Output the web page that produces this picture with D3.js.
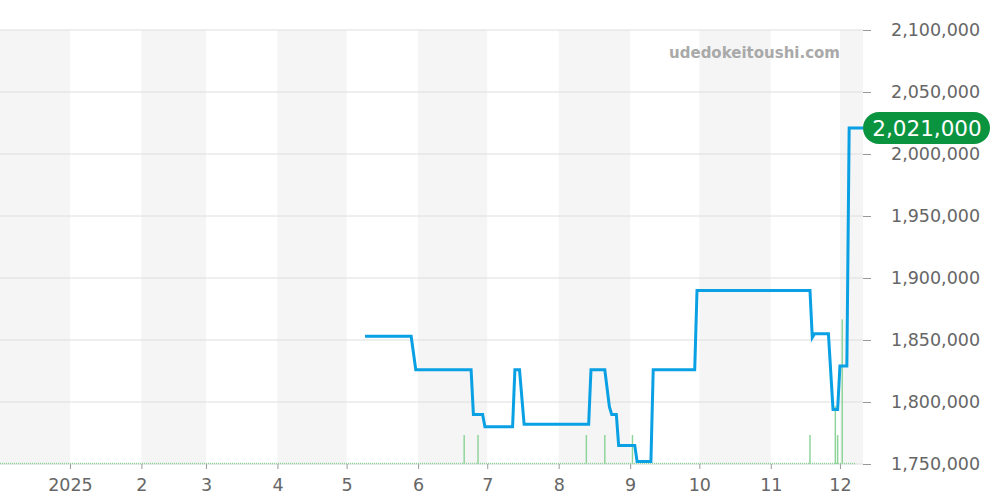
<!DOCTYPE html>
<html>
<head>
<meta charset="utf-8">
<script src="https://cdn.jsdelivr.net/npm/d3@7"></script>
<style>
  body { margin: 0; background: #fff; }
  svg { display: block; font-family: "DejaVu Sans", sans-serif; }
</style>
</head>
<body>
<div id="chart"></div>
<script>
// price history (step changes)
const priceDates = ["2025-05-09","2025-05-29","2025-05-31","2025-06-24","2025-06-25","2025-06-29","2025-06-30",
  "2025-07-12","2025-07-13","2025-07-15","2025-07-17","2025-08-14","2025-08-15","2025-08-21","2025-08-23",
  "2025-08-24","2025-08-26","2025-08-27","2025-08-28","2025-09-03","2025-09-04","2025-09-10","2025-09-11",
  "2025-09-29","2025-09-30","2025-11-18","2025-11-19","2025-11-20","2025-11-26","2025-11-28","2025-11-30",
  "2025-12-01","2025-12-04","2025-12-05","2025-12-11"];
const priceValues = [1853000,1853000,1826000,1826000,1790000,1790000,1780000,
  1780000,1826000,1826000,1782000,1782000,1826000,1826000,1796000,
  1790000,1790000,1765000,1765000,1765000,1752000,1752000,1826000,
  1826000,1890000,1890000,1852000,1855000,1855000,1794000,1794000,
  1829000,1829000,2021000,2021000];

// listing counts (green bars)
const volumeDates = ["2025-06-21","2025-06-27","2025-08-13","2025-08-21","2025-09-02","2025-11-18","2025-11-29","2025-11-30","2025-12-02"];
const volumeValues = [1,1,1,1,1,1,2,1,5];

const yTicks = [1750000,1800000,1850000,1900000,1950000,2000000,2050000,2100000];
const lastPrice = 2021000;
const watermark = "udedokeitoushi.com";

const width = 1000, height = 500;
const plotLeft = 0, plotRight = 863, plotTop = 30, plotBottom = 464;
const parse = d3.timeParse("%Y-%m-%d");

const x = d3.scaleTime()
  .domain([parse("2024-12-01"), parse("2025-12-11")])
  .range([plotLeft - 1.5, plotRight]);
const y = d3.scaleLinear().domain([1750000, 2100000]).range([plotBottom, plotTop]);
const yv = d3.scaleLinear().domain([0, 15]).range([plotBottom, plotTop]);

const svg = d3.select("#chart").append("svg")
  .attr("width", width).attr("height", height);

// month bands
const months = d3.timeMonth.range(parse("2024-12-01"), parse("2026-01-01"));
svg.append("g").selectAll("rect")
  .data(months.filter(m => m.getMonth() % 2 === 1))
  .join("rect")
  .attr("x", d => Math.max(plotLeft, x(d)))
  .attr("width", d => Math.min(plotRight, x(d3.timeMonth.offset(d, 1))) - Math.max(plotLeft, x(d)))
  .attr("y", plotTop).attr("height", plotBottom - plotTop)
  .attr("fill", "#f5f5f5");

// horizontal grid
svg.append("g").selectAll("line")
  .data(yTicks).join("line")
  .attr("x1", plotLeft).attr("x2", plotRight)
  .attr("y1", d => y(d)).attr("y2", d => y(d))
  .attr("stroke", "#dedede").attr("stroke-width", 1);

// watermark
svg.append("text")
  .attr("x", 840).attr("y", 58)
  .attr("text-anchor", "end")
  .attr("font-size", 15).attr("font-weight", "bold")
  .attr("fill", "#a9a9a9")
  .text(watermark);

// y axis on the right
const yAxis = svg.append("g")
  .attr("transform", `translate(${plotRight},0)`)
  .call(d3.axisRight(y).tickValues(yTicks).tickSize(8).tickPadding(20).tickFormat(d3.format(",")));
yAxis.select(".domain").remove();
yAxis.selectAll("line").attr("stroke", "#999");
yAxis.selectAll("text").attr("fill", "#666").attr("font-size", 17.5)
  .attr("font-family", "DejaVu Sans, sans-serif");

// x axis
const xTicks = months.filter(m => m > parse("2024-12-15") && m < parse("2025-12-11"));
const xAxis = svg.append("g")
  .attr("transform", `translate(0,${plotBottom})`)
  .call(d3.axisBottom(x).tickValues(xTicks).tickSize(5).tickPadding(10)
    .tickFormat(d => d.getMonth() === 0 ? d.getFullYear() : d.getMonth() + 1));
xAxis.select(".domain").remove();
xAxis.selectAll("line").attr("stroke", "#999");
xAxis.selectAll("text").attr("fill", "#666").attr("font-size", 17.5)
  .attr("font-family", "DejaVu Sans, sans-serif");

// dotted volume baseline
svg.append("line")
  .attr("x1", plotLeft).attr("x2", x(parse("2025-12-08")))
  .attr("y1", plotBottom - 0.5).attr("y2", plotBottom - 0.5)
  .attr("stroke", "#8fd49a").attr("stroke-width", 1.5)
  .attr("stroke-dasharray", "1,1");

// volume bars
svg.append("g").selectAll("line")
  .data(volumeDates.map((d, i) => ({ date: parse(d), v: volumeValues[i] })))
  .join("line")
  .attr("x1", d => x(d.date)).attr("x2", d => x(d.date))
  .attr("y1", yv(0)).attr("y2", d => yv(d.v))
  .attr("stroke", "#8fd49a").attr("stroke-width", 1.5);

// price line
const priceData = priceDates.map((d, i) => ({ date: parse(d), v: priceValues[i] }));
svg.append("path")
  .datum(priceData)
  .attr("fill", "none")
  .attr("stroke", "#0aa0e4")
  .attr("stroke-width", 3)
  .attr("stroke-linejoin", "miter")
  .attr("d", d3.line().x(d => x(d.date)).y(d => y(d.v)));

// last price badge
const badge = svg.append("g").attr("transform", `translate(${plotRight},${y(lastPrice)})`);
badge.append("rect")
  .attr("x", 0).attr("y", -16).attr("width", 127).attr("height", 32)
  .attr("rx", 16).attr("fill", "#0b9440");
badge.append("text")
  .attr("x", 64).attr("y", 8)
  .attr("text-anchor", "middle")
  .attr("font-size", 21.5).attr("fill", "#fff")
  .text(d3.format(",")(lastPrice));
</script>
</body>
</html>
